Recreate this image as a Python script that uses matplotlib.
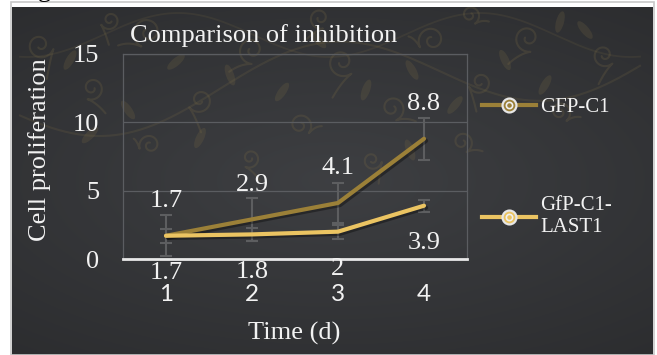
import numpy as np
import matplotlib
matplotlib.use("Agg")
import matplotlib.pyplot as plt
from matplotlib.lines import Line2D
from matplotlib.legend_handler import HandlerTuple
from matplotlib.patches import Ellipse
import matplotlib.patheffects as pe

# --- data -------------------------------------------------------------
days = ["1", "2", "3", "4"]
series_names = ["GFP-C1", "GfP-C1-\nLAST1"]
gfp_c1 = [1.7, 2.9, 4.1, 8.8]
gfp_c1_last1 = [1.7, 1.8, 2.0, 3.9]
gfp_c1_err = [1.5, 1.55, 1.45, 1.55]
gfp_c1_last1_err = [0.5, 0.47, 0.5, 0.45]

y_ticks = [0, 5, 10, 15]

title = "Comparison of inhibition"
y_label = "Cell proliferation"
x_label = "Time (d)"

# --- style ------------------------------------------------------------
W, H = 657, 355
DPI = 100
serif = ["Liberation Serif", "DejaVu Serif"]
col_dark = "#9b8038"
col_light = "#ebc462"
col_err = "#5d5e60"
col_grid = "#5b5d61"
col_text = "#f2f2f2"
col_orn = "#7a6b45"

fig = plt.figure(figsize=(W / DPI, H / DPI), dpi=DPI, facecolor="white")

def fx(px):
    return px / W

def fy(py):
    return 1 - py / H

# dark backdrop (axes in pixel units) with a soft radial gradient
bg = fig.add_axes([fx(12), 0, fx(653) - fx(12), fy(7)])
bg.set_axis_off()
bg.set_xlim(12, 653)
bg.set_ylim(355, 7)
gx, gy = np.meshgrid(np.linspace(-1, 1, 400), np.linspace(-1, 1, 220))
r = np.sqrt((gx * 0.9) ** 2 + (gy * 1.1) ** 2)
shade = 0.25 - 0.05 * np.clip(r, 0, 1.4)
img = np.dstack([shade * 0.97, shade * 0.99, shade * 1.04])
bg.imshow(np.clip(img, 0, 1), extent=[12, 653, 355, 7], aspect="auto")

# faint scrolling vine ornament across the upper part
def scroll(cx, cy, rad, flip, rot):
    t = np.linspace(0, 2.6 * np.pi, 160)
    rr = rad * (1 - t / (3.3 * np.pi))
    px = flip * rr * np.cos(t + rot)
    py = rr * np.sin(t + rot)
    # tail leading out of the curl
    s = np.linspace(0, 1, 40)
    tx = px[0] + flip * s * rad * 1.6 * np.cos(rot + np.pi / 2)
    ty = py[0] + s * rad * 1.6 * np.sin(rot + np.pi / 2) + s ** 2 * rad * 0.6
    bg.plot(cx + np.r_[tx[::-1], px], cy + np.r_[ty[::-1], py], color=col_orn,
            alpha=0.24, lw=1.5, solid_capstyle="round", zorder=1)

scrolls = [(40, 45, 14, 1, 0.3), (92, 88, 12, -1, 1.2), (148, 32, 16, 1, 2.0),
           (200, 100, 13, -1, 0.6), (252, 50, 14, 1, 1.6), (300, 125, 12, -1, 2.4),
           (342, 62, 15, 1, 0.9), (392, 108, 13, -1, 1.9), (432, 40, 14, 1, 2.6),
           (480, 82, 12, -1, 0.4), (528, 38, 14, 1, 1.4), (560, 112, 11, -1, 2.2),
           (604, 55, 12, 1, 0.8), (150, 145, 11, 1, 2.8), (250, 158, 10, -1, 1.1),
           (372, 160, 10, 1, 0.2), (462, 142, 11, -1, 2.0), (110, 20, 10, -1, 0.5),
           (320, 18, 11, 1, 1.3), (470, 15, 10, -1, 2.1)]
for cx, cy, rad, flip, rot in scrolls:
    scroll(cx, cy, rad, flip, rot)

vx = np.linspace(20, 640, 300)
bg.plot(vx, 80 + 38 * np.sin(vx / 70.0) - 0.08 * (vx - 330), color=col_orn,
        alpha=0.2, lw=1.5, zorder=1)
bg.plot(vx, 35 + 22 * np.sin(vx / 48.0 + 1.0), color=col_orn,
        alpha=0.16, lw=1.3, zorder=1)

leaves = [(70, 60, 30), (128, 110, -35), (176, 62, 50), (230, 75, -20),
          (282, 92, 35), (318, 40, -45), (366, 90, 20), (412, 70, -30),
          (455, 105, 40), (505, 60, -25), (545, 85, 30), (585, 30, -40),
          (200, 138, 25), (410, 150, -20), (90, 135, 45), (560, 22, 15)]
for lx, ly, ang in leaves:
    bg.add_patch(Ellipse((lx, ly), 8, 22, angle=ang, facecolor=col_orn,
                         edgecolor="none", alpha=0.22, zorder=1))

fig.add_artist(plt.Rectangle((fx(11), 0), fx(654) - fx(11), fy(6) + 0.01,
                             transform=fig.transFigure, fill=False,
                             edgecolor="#c8c8c8", lw=1.2))

# --- main plot --------------------------------------------------------
ax = fig.add_axes([fx(123), fy(259), fx(467) - fx(123), fy(54) - fy(259)])
ax.set_facecolor("none")
x = np.arange(1, len(days) + 1)

ax.errorbar(x, gfp_c1, yerr=gfp_c1_err, fmt="none", ecolor=col_err,
            elinewidth=1.5, capsize=4.5, capthick=1.5, zorder=2)
ax.errorbar(x, gfp_c1_last1, yerr=gfp_c1_last1_err, fmt="none", ecolor=col_err,
            elinewidth=1.5, capsize=4.5, capthick=1.5, zorder=2)

shadow = [pe.SimpleLineShadow(offset=(1.5, -1.5), shadow_color="black", alpha=0.35),
          pe.Normal()]
ax.plot(x, gfp_c1, color=col_dark, lw=3.0, solid_capstyle="round",
        path_effects=shadow, zorder=3)
ax.plot(x, gfp_c1_last1, color=col_light, lw=3.0, solid_capstyle="round",
        path_effects=shadow, zorder=4)

for xi, v in zip(x, gfp_c1):
    ax.annotate(f"{v:g}", (xi, v), xytext=(0, 25), textcoords="offset points",
                ha="center", va="center", color=col_text, fontsize=19,
                family=serif, zorder=5)
for xi, v in zip(x, gfp_c1_last1):
    ax.annotate(f"{v:g}", (xi, v), xytext=(0, -27), textcoords="offset points",
                ha="center", va="center", color=col_text, fontsize=19,
                family=serif, zorder=5)

ax.set_xlim(0.5, len(days) + 0.5)
ax.set_ylim(0, 15)
ax.set_yticks(y_ticks)
ax.set_yticklabels([str(v) for v in y_ticks], family=serif, fontsize=19,
                   color=col_text)
ax.set_xticks(x)
ax.set_xticklabels(days, family=["Lato", "DejaVu Sans"], fontsize=17.5,
                   color=col_text)
ax.tick_params(axis="y", length=0, pad=17)
ax.tick_params(axis="x", length=0, pad=18)
ax.yaxis.grid(True, color=col_grid, lw=0.9)
ax.set_axisbelow(True)
for side in ["top", "right", "left"]:
    ax.spines[side].set_color(col_grid)
    ax.spines[side].set_linewidth(0.9)
ax.spines["bottom"].set_color("#e8e8e8")
ax.spines["bottom"].set_linewidth(2.0)

# --- texts ------------------------------------------------------------
fig.text(fx(264), fy(36), title, ha="center", va="center", color=col_text,
         fontsize=19, family=serif)
fig.text(fx(40), fy(150), y_label, ha="center", va="center", rotation=90,
         color=col_text, fontsize=19, family=serif)
fig.text(fx(294), fy(333), x_label, ha="center", va="center", color=col_text,
         fontsize=19, family=serif)
fig.text(fx(44), fy(-9), "g", ha="center", va="center", color="black",
         fontsize=19, family=serif)

# --- legend -----------------------------------------------------------
def legend_handle(color):
    line = Line2D([], [], color=color, lw=3.0)
    ring = Line2D([], [], ls="none", marker="o", ms=10, mfc=color,
                  mec="#e6e6e6", mew=1.6)
    dot = Line2D([], [], ls="none", marker="o", ms=4.5, mfc=color,
                 mec="#f0f0f0", mew=1.2)
    return (line, ring, dot)

leg = fig.legend([legend_handle(col_dark), legend_handle(col_light)],
                 series_names, loc="upper left",
                 bbox_to_anchor=(fx(463), fy(79)), frameon=False,
                 handler_map={tuple: HandlerTuple(ndivide=1, pad=0)},
                 handlelength=2.6, handletextpad=0.2, labelspacing=3.8,
                 prop={"family": serif, "size": 15})
for txt in leg.get_texts():
    txt.set_color(col_text)

fig.savefig("out.png", dpi=DPI, facecolor="white")
